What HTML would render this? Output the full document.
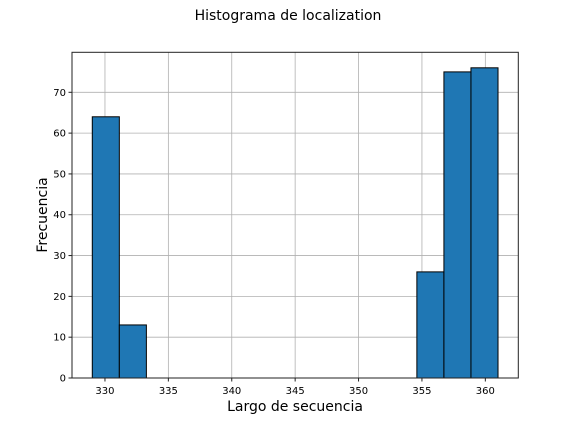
<!DOCTYPE html>
<html><head><meta charset="utf-8"><style>
body{margin:0;background:#fff;}
svg{display:block;font-family:"DejaVu Sans","Liberation Sans",sans-serif;}
</style></head><body>
<svg id="chart" width="576" height="432">
<text x="288" y="20" font-size="14" text-anchor="middle">Histograma de localization</text>
<text x="295" y="411" font-size="14" text-anchor="middle">Largo de secuencia</text>
<text transform="translate(47,215) rotate(-90)" font-size="14" text-anchor="middle">Frecuencia</text>
<g id="grid"></g><g id="bars"></g><g id="ticks"></g>
<rect x="72" y="52.3" width="446.3" height="325.7" fill="none" stroke="#222" stroke-width="1"/>
</svg>
<script>
const binStart = 329, binEnd = 361, binCount = 15;
const counts = [64,13,0,0,0,0,0,0,0,0,0,0,26,75,76];
const xTicks = [330,335,340,345,350,355,360];
const yTicks = [0,10,20,30,40,50,60,70];
const L=72,R=518.3,T=52.3,B=378;
const pad=(binEnd-binStart)*0.05;
const xmin=binStart-pad,xmax=binEnd+pad;
const ymax=Math.max(...counts)*1.05;
const x=v=>L+(v-xmin)/(xmax-xmin)*(R-L);
const y=v=>B-v/ymax*(B-T);
const NS="http://www.w3.org/2000/svg";
function mk(t,a,p){const e=document.createElementNS(NS,t);for(const k in a)e.setAttribute(k,a[k]);p.appendChild(e);return e;}
const grid=document.getElementById('grid'),bars=document.getElementById('bars'),ticks=document.getElementById('ticks');
xTicks.forEach(v=>{
 const g=mk('line',{x1:x(v),x2:x(v),y1:T,y2:B,stroke:'#b0b0b0','stroke-width':0.8},grid);
 
 
 mk('line',{x1:x(v),x2:x(v),y1:B,y2:B+3.5,stroke:'#222'},ticks);
 const t=mk('text',{x:x(v),y:B+16,'font-size':10,'text-anchor':'middle'},ticks);t.textContent=v;
 
 
});
yTicks.forEach(v=>{
 const g=mk('line',{x1:L,x2:R,y1:y(v),y2:y(v),stroke:'#b0b0b0','stroke-width':0.8},grid);
 
 
 mk('line',{x1:L-3.5,x2:L,y1:y(v),y2:y(v),stroke:'#222'},ticks);
 const t=mk('text',{x:L-6,y:y(v)+3.5,'font-size':10,'text-anchor':'end'},ticks);t.textContent=v;
 
 
});
const w=(binEnd-binStart)/binCount;
counts.forEach((c,i)=>{
 if(c<=0)return;
 const a=binStart+i*w;
 const r=mk('rect',{x:x(a),y:y(c),width:x(a+w)-x(a),height:B-y(c),fill:'#1f77b4',stroke:'#000','stroke-width':1},bars);
 
 
});
</script>
</body></html>
